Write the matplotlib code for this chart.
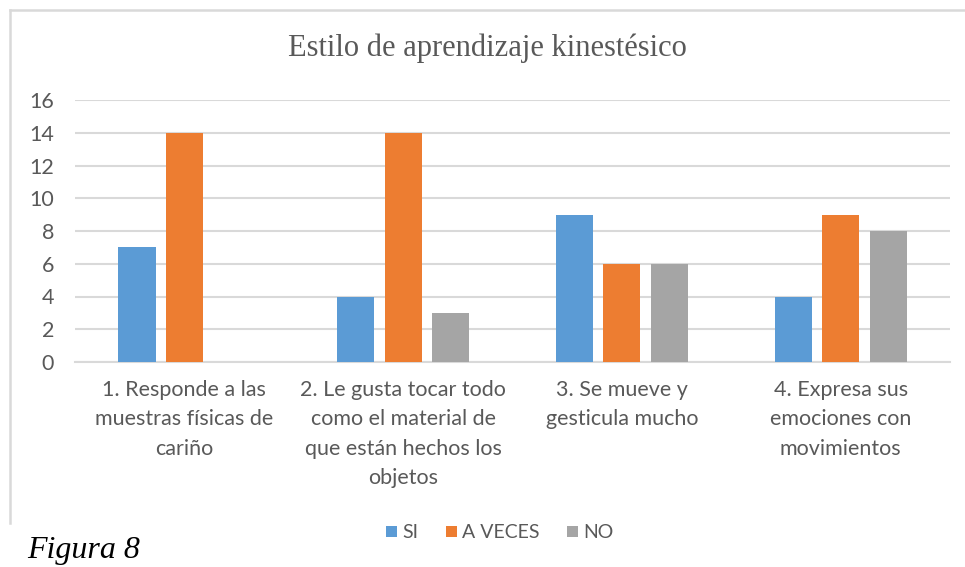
import matplotlib.pyplot as plt
import numpy as np
from matplotlib.lines import Line2D

categorias = ["1. Responde a las\nmuestras físicas de\ncariño",
              "2. Le gusta tocar todo\ncomo el material de\nque están hechos los\nobjetos",
              "3. Se mueve y\ngesticula mucho",
              "4. Expresa sus\nemociones con\nmovimientos"]
si = [7, 4, 9, 4]
a_veces = [14, 14, 6, 9]
no = [0, 3, 6, 8]
series = ["SI", "A VECES", "NO"]
colores = ["#5B9BD5", "#ED7D31", "#A5A5A5"]

W, H = 965, 567
fig = plt.figure(figsize=(W / 100, H / 100), dpi=100)
ax = fig.add_axes([75 / W, 1 - 362 / H, (950 - 75) / W, (362 - 100) / H])

x = np.arange(len(categorias))
ancho = 0.17
paso = 0.217
for i, (vals, nombre, c) in enumerate(zip([si, a_veces, no], series, colores)):
    ax.bar(x + (i - 1) * paso, vals, ancho, color=c, label=nombre, zorder=3)

ax.set_xlim(-0.5, len(categorias) - 0.5)
ax.set_ylim(0, 16)
ax.set_yticks(range(0, 17, 2))
ax.yaxis.grid(True, color="#D9D9D9", linewidth=1.5, zorder=0)
for s in ["top", "right", "left"]:
    ax.spines[s].set_visible(False)
ax.spines["bottom"].set_color("#D9D9D9")
ax.spines["bottom"].set_linewidth(1.5)
ax.tick_params(axis="both", length=0, colors="#595959", labelsize=15.5)
ax.tick_params(axis="y", pad=15)
ax.tick_params(axis="x", pad=13)
ax.set_xticks(x)
ax.set_xticklabels(categorias, fontfamily="Lato", linespacing=1.58)
for lbl in ax.get_yticklabels():
    lbl.set_fontfamily("Lato")

fig.text(487 / W, 1 - 48 / H, "Estilo de aprendizaje kinestésico", ha="center", va="center",
         fontsize=22, color="#595959", fontfamily="Liberation Serif")

fig.legend(loc="center", bbox_to_anchor=(500 / W, 1 - 533 / H), ncol=3, frameon=False,
           prop={"family": "Lato", "size": 14}, labelcolor="#595959",
           handlelength=0.55, handleheight=0.55, handletextpad=0.3, columnspacing=1.4)

fig.add_artist(Line2D([10 / W, 1], [1 - 10 / H, 1 - 10 / H], color="#D9D9D9", linewidth=1.8))
fig.add_artist(Line2D([10 / W, 10 / W], [1 - 10 / H, 1 - 523 / H], color="#D9D9D9", linewidth=1.8))

fig.text(27 / W, 1 - 558 / H, "Figura 8", ha="left", va="baseline", fontsize=23,
         fontstyle="italic", fontfamily="Liberation Serif", color="black")

fig.savefig("out.png", dpi=100)
